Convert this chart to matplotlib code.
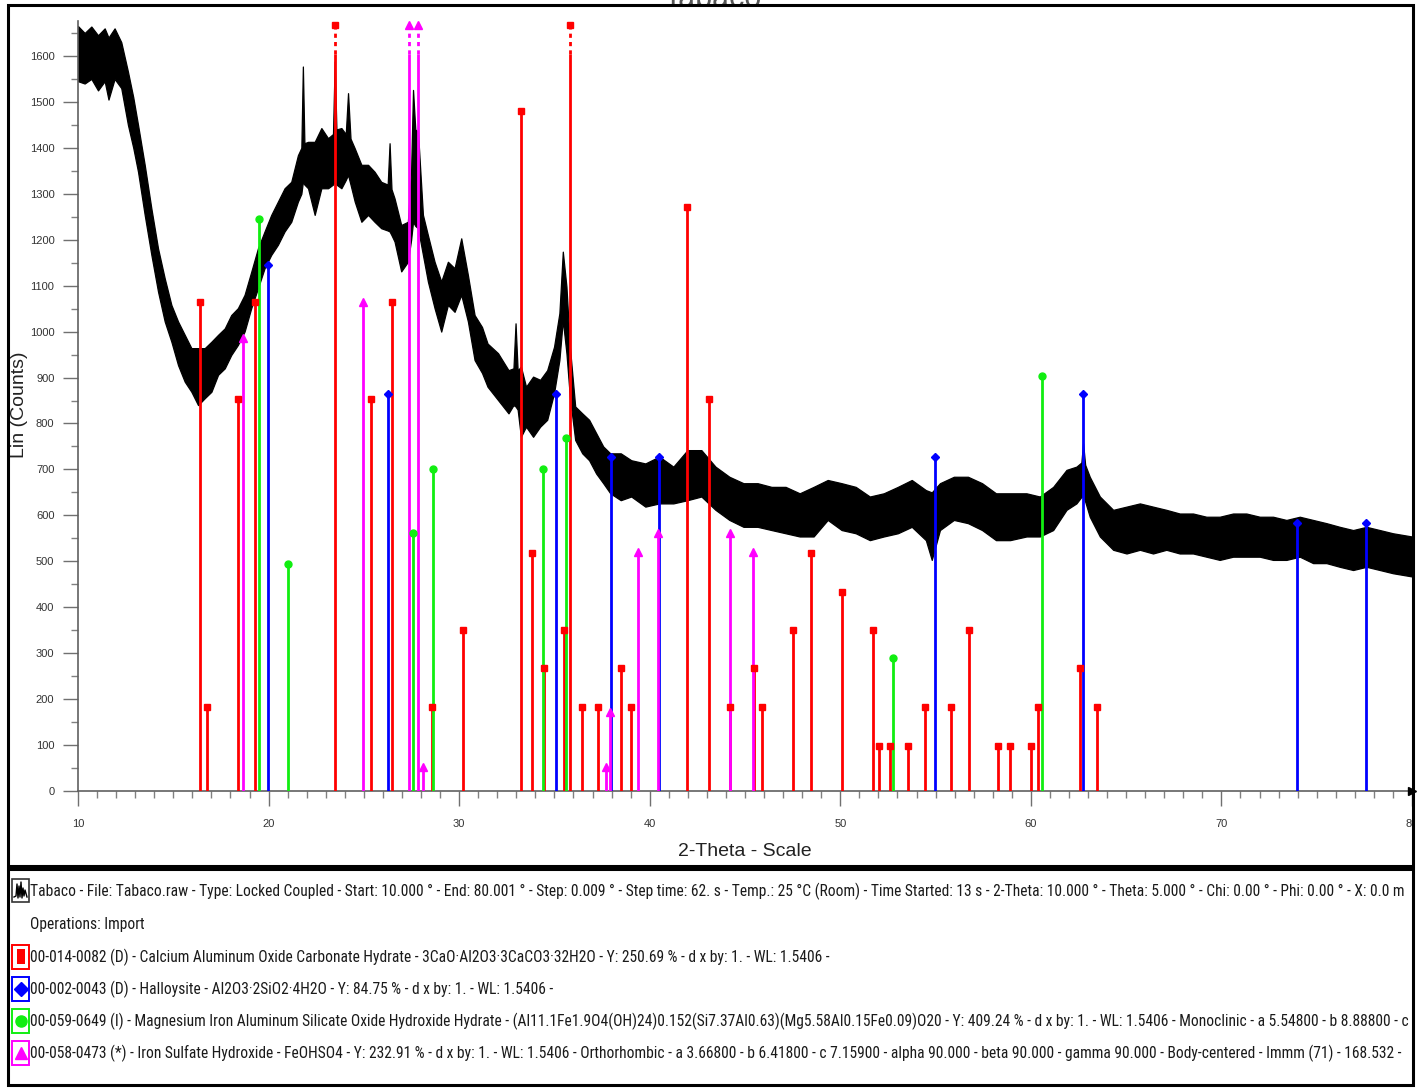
import matplotlib
matplotlib.use("Agg")
import matplotlib.pyplot as plt
import numpy as np
from matplotlib import font_manager as fm
from matplotlib.patches import Rectangle
from matplotlib.lines import Line2D
from matplotlib.transforms import Bbox, TransformedBbox

# ---------------- measured pattern (noise band envelope) ----------------
two_theta = [10.00, 10.35, 10.70, 11.05, 11.40, 11.60, 11.92, 12.27, 12.62, 12.90,
             13.15, 13.50, 13.85, 14.20, 14.55, 14.90, 15.25, 15.60, 15.95, 16.30,
             16.65, 17.00, 17.35, 17.70, 18.04, 18.39, 18.74, 19.09, 19.44, 19.79,
             20.14, 20.49, 20.84, 21.19, 21.54, 21.72, 21.80, 21.88, 22.07, 22.42,
             22.77, 23.12, 23.38, 23.47, 23.56, 23.82, 24.05, 24.17, 24.30, 24.52,
             24.87, 25.22, 25.56, 25.91, 26.25, 26.35, 26.45, 26.61, 26.96, 27.31,
             27.48, 27.58, 27.70, 27.84, 28.10, 28.36, 28.71, 29.06, 29.41, 29.76,
             30.11, 30.46, 30.81, 31.20, 31.49, 32.04, 32.59, 32.85, 32.96, 33.07,
             33.24, 33.51, 33.88, 34.25, 34.62, 34.98, 35.26, 35.44, 35.63, 35.81,
             36.09, 36.46, 36.82, 37.19, 37.56, 37.93, 38.48, 39.03, 39.77, 40.50,
             41.24, 41.98, 42.71, 43.45, 44.18, 44.92, 45.66, 46.39, 47.13, 47.87,
             48.60, 49.34, 50.07, 50.81, 51.55, 52.28, 53.02, 53.75, 54.49, 54.80,
             55.23, 55.96, 56.70, 57.44, 58.17, 58.91, 59.77, 60.47, 61.17, 61.87,
             62.39, 62.65, 62.74, 62.85, 63.09, 63.62, 64.32, 65.02, 65.72, 66.41,
             67.11, 67.81, 68.51, 69.21, 69.91, 70.61, 71.31, 72.01, 72.71, 73.41,
             74.11, 74.81, 75.51, 76.21, 76.91, 77.61, 78.31, 79.00, 80.00]
counts_upper = [1665, 1650, 1664, 1645, 1660, 1640, 1660, 1630, 1566, 1510,
                1450, 1363, 1268, 1181, 1116, 1058, 1022, 993, 964, 964,
                964, 978, 993, 1007, 1036, 1051, 1080, 1130, 1181, 1218,
                1254, 1283, 1312, 1326, 1384, 1400, 1577, 1410, 1413, 1413,
                1443, 1421, 1430, 1588, 1440, 1443, 1430, 1519, 1420, 1399,
                1363, 1363, 1348, 1326, 1320, 1410, 1310, 1290, 1232, 1239,
                1350, 1526, 1440, 1435, 1254, 1210, 1152, 1109, 1152, 1138,
                1203, 1123, 1036, 1010, 974, 953, 916, 920, 1018, 915,
                924, 880, 902, 895, 916, 967, 1040, 1174, 1098, 967,
                837, 822, 808, 779, 750, 735, 735, 720, 713, 728,
                706, 742, 742, 706, 684, 670, 670, 662, 662, 648,
                662, 677, 670, 662, 641, 648, 662, 677, 655, 650,
                670, 684, 684, 670, 648, 648, 648, 641, 662, 699,
                706, 715, 757, 710, 684, 641, 612, 619, 626, 619,
                612, 604, 604, 597, 597, 604, 604, 597, 597, 590,
                597, 590, 583, 575, 568, 575, 568, 561, 554]
counts_lower = [1545, 1540, 1550, 1525, 1545, 1505, 1550, 1530, 1450, 1400,
                1348, 1254, 1167, 1087, 1022, 978, 927, 891, 869, 840,
                855, 869, 906, 920, 949, 971, 1000, 1051, 1094, 1138,
                1167, 1189, 1218, 1239, 1283, 1300, 1326, 1320, 1312, 1254,
                1312, 1312, 1320, 1326, 1320, 1312, 1330, 1341, 1320, 1283,
                1239, 1254, 1239, 1225, 1220, 1218, 1210, 1196, 1131, 1152,
                1200, 1239, 1230, 1225, 1167, 1109, 1051, 1000, 1058, 1043,
                1080, 1022, 938, 910, 880, 851, 822, 840, 837, 830,
                771, 793, 771, 793, 808, 866, 938, 1025, 953, 858,
                764, 735, 720, 691, 670, 648, 633, 641, 619, 626,
                626, 633, 641, 612, 590, 575, 575, 568, 561, 554,
                554, 590, 568, 561, 546, 554, 561, 575, 546, 503,
                568, 590, 583, 568, 546, 546, 554, 554, 568, 612,
                626, 640, 641, 630, 597, 554, 525, 517, 525, 517,
                525, 517, 517, 510, 503, 510, 510, 510, 503, 503,
                510, 496, 496, 488, 481, 488, 481, 474, 467]

# ---------------- reference patterns (stick positions / heights) ----------------
caoh_pos = [16.40, 16.78, 18.42, 19.29, 23.47, 25.36, 26.49, 28.59, 30.22, 33.22,
            33.84, 34.47, 35.51, 35.84, 36.46, 37.30, 38.50, 39.02, 41.98, 43.12,
            44.23, 45.45, 45.91, 47.54, 48.46, 50.07, 51.72, 52.02, 52.60, 53.56,
            54.47, 55.83, 56.76, 58.30, 58.89, 60.01, 60.39, 62.59, 63.48]
caoh_val = [1064, 183, 853, 1064, 1700, 853, 1064, 183, 350, 1480,
            517, 268, 350, 1700, 183, 183, 268, 183, 1271, 853,
            183, 268, 183, 350, 517, 434, 350, 99, 99, 99,
            183, 183, 350, 99, 99, 99, 183, 268, 183]

hall_pos = [19.95, 26.29, 35.08, 37.98, 40.48, 54.97, 62.75, 73.99, 77.56]
hall_val = [1145, 865, 865, 727, 727, 727, 865, 583, 583]

mgfe_pos = [19.51, 21.03, 27.59, 28.64, 34.40, 35.59, 52.78, 60.58]
mgfe_val = [1246, 494, 562, 701, 701, 768, 289, 903]

feso_pos = [18.66, 24.97, 27.39, 27.84, 28.12, 37.72, 37.94, 39.40, 40.42, 44.20, 45.43]
feso_val = [986, 1065, 1700, 1700, 53, 53, 172, 520, 561, 561, 520]

y_ticks = list(range(0, 1601, 100))
x_ticks = list(range(10, 81, 10))

header_lines = [
    "Tabaco - File: Tabaco.raw - Type: Locked Coupled - Start: 10.000 \u00b0 - End: 80.001 \u00b0 - Step: 0.009 \u00b0 - "
    "Step time: 62. s - Temp.: 25 \u00b0C (Room) - Time Started: 13 s - 2-Theta: 10.000 \u00b0 - Theta: 5.000 \u00b0 - "
    "Chi: 0.00 \u00b0 - Phi: 0.00 \u00b0 - X: 0.0 m",
    "Operations: Import",
]
phase_lines = [
    "00-014-0082 (D) - Calcium Aluminum Oxide Carbonate Hydrate - 3CaO\u00b7Al2O3\u00b73CaCO3\u00b732H2O - Y: 250.69 % - d x by: 1. - WL: 1.5406 -",
    "00-002-0043 (D) - Halloysite - Al2O3\u00b72SiO2\u00b74H2O - Y: 84.75 % - d x by: 1. - WL: 1.5406 -",
    "00-059-0649 (I) - Magnesium Iron Aluminum Silicate Oxide Hydroxide Hydrate - (Al11.1Fe1.9O4(OH)24)0.152(Si7.37Al0.63)(Mg5.58Al0.15Fe0.09)O20 - Y: 409.24 % - d x by: 1. - WL: 1.5406 - Monoclinic - a 5.54800 - b 8.88800 - c",
    "00-058-0473 (*) - Iron Sulfate Hydroxide - FeOHSO4 - Y: 232.91 % - d x by: 1. - WL: 1.5406 - Orthorhombic - a 3.66800 - b 6.41800 - c 7.15900 - alpha 90.000 - beta 90.000 - gamma 90.000 - Body-centered - Immm (71) - 168.532 -",
]

# ---------------- fonts ----------------
SANS = ["Liberation Sans", "DejaVu Sans"]


def pick_narrow_font():
    """Return FontProperties for a condensed sans face if one is installed."""
    wanted = ["LiberationSansNarrow-Regular", "RobotoCondensed-Regular",
              "DejaVuSansCondensed.", "OpenSans_Condensed-Regular",
              "OpenSansCondensed-Regular", "NotoSans-Condensed",
              "NotoSansCondensed-Regular"]
    files = [f.fname for f in fm.fontManager.ttflist]
    for key in wanted:
        for fn in files:
            if key.lower() in fn.lower().replace(" ", ""):
                return fm.FontProperties(fname=fn)
    for f in fm.fontManager.ttflist:
        if f.stretch in ("condensed", "semi-condensed") and f.style == "normal" \
                and f.weight in (400, "normal", "regular"):
            return fm.FontProperties(fname=f.fname)
    return fm.FontProperties(family=SANS)


NARROW_FP = pick_narrow_font()

# ---------------- figure ----------------
W, H = 1422, 1089
fig = plt.figure(figsize=(W / 100, H / 100), dpi=100)
fig.patch.set_facecolor("white")


def fx(px):
    return px / W


def fy(py):
    return 1 - py / H


Y_TOP = 1700
ax = fig.add_axes([fx(78), fy(791), (1412 - 78) / W, (791 - 10) / H])
ax.set_xlim(10, 80)
ax.set_ylim(0, Y_TOP)
ax.patch.set_alpha(0)

# diffraction trace
ax.fill_between(two_theta, counts_lower, counts_upper, color="black",
                edgecolor="black", lw=0.9, zorder=2)

# stick patterns
CAP_MARK = 1667
CAP_SOLID = 1605
phases = [
    (caoh_pos, caoh_val, "#ff0000", "s", 5),
    (hall_pos, hall_val, "#0000ff", "D", 4),
    (mgfe_pos, mgfe_val, "#11ee11", "o", 5),
    (feso_pos, feso_val, "#ff00ff", "^", 5.5),
]
for pos, val, col, mk, ms in phases:
    pos = np.asarray(pos, dtype=float)
    val = np.asarray(val, dtype=float)
    over = val > CAP_MARK
    ax.vlines(pos[~over], 0, val[~over], color=col, lw=2, zorder=3)
    ax.plot(pos[~over], val[~over], linestyle="none", marker=mk, ms=ms,
            color=col, mec=col, zorder=4)
    if over.any():
        ax.vlines(pos[over], 0, CAP_SOLID, color=col, lw=2, zorder=3)
        ax.vlines(pos[over], CAP_SOLID, CAP_MARK, color=col, lw=2,
                  linestyles=(0, (1.5, 1.5)), zorder=3)
        ax.plot(pos[over], np.full(over.sum(), CAP_MARK), linestyle="none",
                marker=mk, ms=ms, color=col, mec=col, zorder=4)

# axes styling
for s in ("top", "right"):
    ax.spines[s].set_visible(False)
ax.spines["left"].set_bounds(0, 1675)
ax.spines["bottom"].set_bounds(10, 80)
for s in ("left", "bottom"):
    ax.spines[s].set_color("#606060")
    ax.spines[s].set_linewidth(1.2)

ax.set_xticks(x_ticks)
ax.set_xticks(np.arange(10, 81, 1), minor=True)
ax.set_yticks(y_ticks)
ax.set_yticks(np.arange(0, 1651, 50), minor=True)
ax.tick_params(which="major", direction="out", length=11, width=1,
               color="#707070", labelsize=8, labelcolor="#333333")
ax.tick_params(which="minor", direction="out", length=5, width=1, color="#808080")
ax.tick_params(axis="x", which="major", pad=9)
ax.tick_params(axis="y", which="major", pad=6)
for lbl in ax.get_xticklabels() + ax.get_yticklabels():
    lbl.set_fontfamily(SANS)
clip_bb = TransformedBbox(Bbox([[0, 0], [1413 / W, 1]]), fig.transFigure)
for lbl in ax.get_xticklabels():
    lbl.set_clip_box(clip_bb)
    lbl.set_clip_on(True)

ax.plot([80], [0], marker=">", ms=6, color="black", clip_on=False, zorder=5)

ax.set_ylabel("Lin (Counts)", fontsize=14, family=SANS, color="#222222")
ax.yaxis.set_label_coords((28 - 78) / 1334, (791 - 405) / 781)
fig.text(fx(745), fy(852), "2-Theta - Scale", ha="center", va="center",
         fontsize=14, family=SANS, color="#222222")

# title (mostly above the visible area)
fig.text(fx(712), fy(7), "Tabaco", ha="center", va="baseline", fontsize=22,
         family=SANS, color="#555555")

# frames
fig.patches.append(Rectangle((fx(8), fy(866)), (1413 - 8) / W, (866 - 5) / H,
                             transform=fig.transFigure, fill=False, lw=2.2,
                             ec="black", zorder=10))
fig.patches.append(Rectangle((fx(8), fy(1085)), (1413 - 8) / W, (1085 - 869) / H,
                             transform=fig.transFigure, fill=False, lw=2.2,
                             ec="black", zorder=10))

# legend block: size the font so the longest phase line spans its measured width
renderer = fig.canvas.get_renderer()
probe_fp = NARROW_FP.copy()
probe_fp.set_size(13)
probe = fig.text(0, 0, phase_lines[3], fontproperties=probe_fp)
probe_w = probe.get_window_extent(renderer).width
probe.remove()
legend_size = min(14.0, 13 * (1403 - 30) / probe_w)
legend_fp = NARROW_FP.copy()
legend_fp.set_size(legend_size)

legend_clip = TransformedBbox(Bbox([[fx(8), fy(1085)], [fx(1411), fy(869)]]), fig.transFigure)
text_kw = dict(ha="left", va="center", fontproperties=legend_fp, color="#1a1a1a")
row_y = [891, 925, 957, 989, 1021, 1053]
t = fig.text(fx(30), fy(row_y[0]), header_lines[0], **text_kw)
t.set_clip_box(legend_clip)
t.set_clip_on(True)
fig.text(fx(30), fy(row_y[1]), header_lines[1], **text_kw)

# scan icon
fig.patches.append(Rectangle((fx(12), fy(902)), 17 / W, 23 / H, transform=fig.transFigure,
                             fill=False, lw=1.2, ec="#333333"))
icon_x = [14, 16, 17, 18, 19, 20, 21, 22, 23, 24, 25, 27]
icon_y = [897, 896, 884, 898, 886, 897, 882, 898, 888, 896, 890, 897]
fig.add_artist(Line2D([fx(v) for v in icon_x], [fy(v) for v in icon_y],
                      transform=fig.transFigure, color="black", lw=1.0))

for (pos, val, col, mk, ms), line, yy in zip(phases, phase_lines, row_y[2:]):
    fig.patches.append(Rectangle((fx(12), fy(yy + 12)), 17 / W, 24 / H,
                                 transform=fig.transFigure, fill=False, lw=1.4, ec=col))
    if mk == "s":
        fig.patches.append(Rectangle((fx(16.5), fy(yy + 7)), 8 / W, 15 / H,
                                     transform=fig.transFigure, color=col, lw=0))
    else:
        fig.add_artist(Line2D([fx(20.5)], [fy(yy)], transform=fig.transFigure,
                              marker=mk, ms=8 if mk != "D" else 7, color=col,
                              mec=col, linestyle="none"))
    t = fig.text(fx(30), fy(yy), line, **text_kw)
    t.set_clip_box(legend_clip)
    t.set_clip_on(True)

fig.savefig("out.png", dpi=100)
